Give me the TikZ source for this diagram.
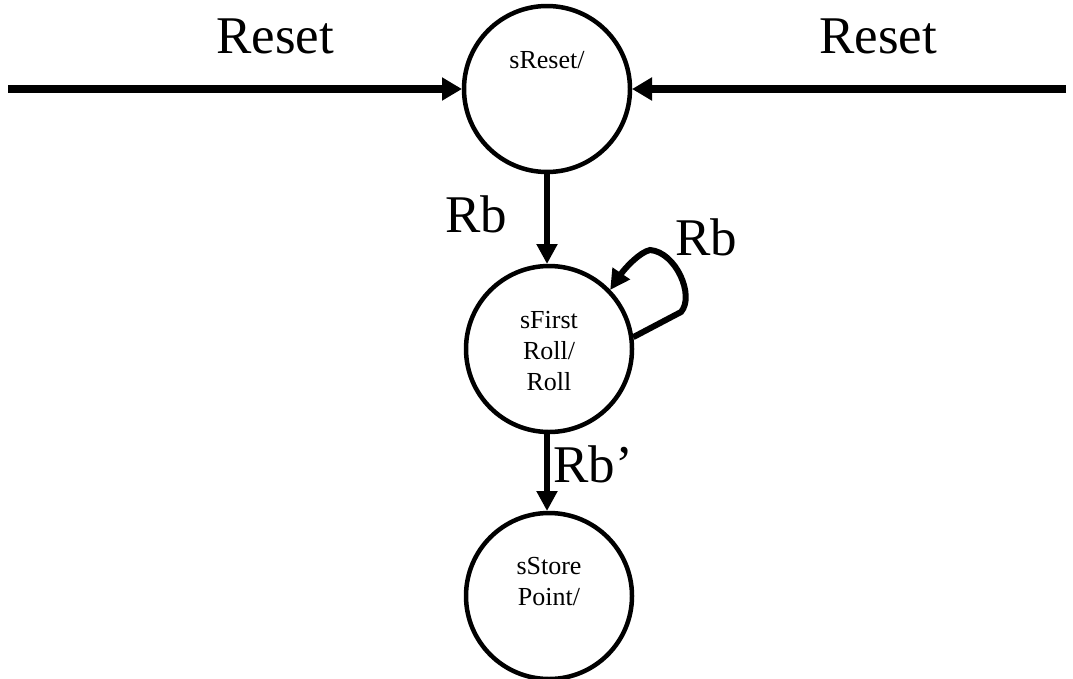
\documentclass[tikz,border=0pt]{standalone}
\usepackage{fontspec}
\setmainfont{Liberation Serif}
\usetikzlibrary{arrows.meta}
\begin{document}
\begin{tikzpicture}[x=1pt,y=-1pt,
  state/.style={circle,draw,line width=4.5pt,minimum size=166pt,inner sep=0pt,outer sep=2pt},
  stxt/.style={font=\fontsize{26}{31}\selectfont,align=center,inner sep=0pt},
  big/.style={font=\fontsize{53}{60}\selectfont,inner sep=0pt},
  thick arrow/.style={line width=8pt,-{Triangle[length=20pt,width=22pt]}},
  tarrow/.style={line width=5.5pt,-{Triangle[length=20pt,width=20pt]}}]
\useasboundingbox (0,0) rectangle (1073,678);
\node[state] (reset) at (547,89) {};
\node[state] (first) at (549,349) {};
\node[state] (store) at (549,596) {};
\node[stxt,anchor=base] (treset) at (547,68) {sReset/};
\node[stxt] (tfirst) at (549,351) {sFirst\\Roll/\\Roll};
\node[stxt] (tstore) at (549,582) {sStore\\Point/};
\coordinate (lstart) at (8,89);
\coordinate (rstart) at (1066,89);
\draw[thick arrow] (lstart) -- (reset.west);
\draw[thick arrow] (rstart) -- (reset.east);
\node[big,anchor=base] (lreset) at (275,53) {Reset};
\node[big,anchor=base] (rreset) at (878,53) {Reset};
\draw[tarrow] (reset.south -| 547,0) -- (first.north -| 547,0);
\node[big,anchor=base] (lrb) at (476,232) {Rb};
\draw[line width=6pt,-{Triangle[length=20pt,width=20pt]}] (first.8) -- (681,312)
  .. controls (695,296) and (676,252) .. (650,250)
  .. controls (640,252) and (625,268) .. (first.44);
\node[big,anchor=base] (looprb) at (706,255) {Rb};
\draw[tarrow] (first.south -| 547,0) -- (store.north -| 547,0);
\node[big,anchor=base west] (rbp) at (553,482) {Rb’};
\end{tikzpicture}
\end{document}
